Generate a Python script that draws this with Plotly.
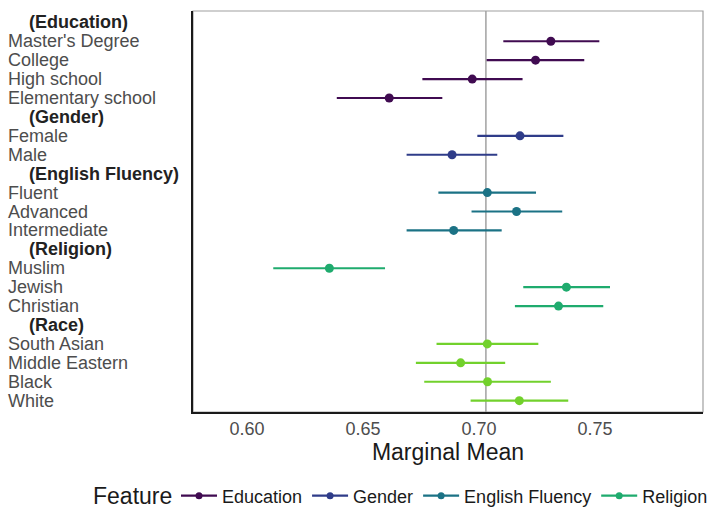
import plotly.graph_objects as go

# ---- data ----
feature_names = ["Education", "Gender", "English Fluency", "Religion", "Race"]
feature_colors = ["#400b51", "#2f3c89", "#1b7285", "#1fab6e", "#72d12c"]

level_labels = ["Master's Degree", "College", "High school", "Elementary school",
                "Female", "Male",
                "Fluent", "Advanced", "Intermediate",
                "Muslim", "Jewish", "Christian",
                "South Asian", "Middle Eastern", "Black", "White"]
level_feature = ["Education", "Education", "Education", "Education",
                 "Gender", "Gender",
                 "English Fluency", "English Fluency", "English Fluency",
                 "Religion", "Religion", "Religion",
                 "Race", "Race", "Race", "Race"]
estimate = [0.731, 0.7244, 0.6971, 0.6613,
            0.7177, 0.6884,
            0.7036, 0.7162, 0.6891,
            0.6355, 0.7377, 0.7343,
            0.7036, 0.6921, 0.7037, 0.7174]
lower = [0.7105, 0.7033, 0.6756, 0.6387,
         0.6993, 0.6688,
         0.6825, 0.6968, 0.6688,
         0.6113, 0.7191, 0.7155,
         0.6817, 0.6728, 0.6764, 0.6964]
upper = [0.7519, 0.7454, 0.7188, 0.6842,
         0.7364, 0.7079,
         0.7246, 0.7359, 0.7098,
         0.6595, 0.7565, 0.7536,
         0.7256, 0.7113, 0.7310, 0.7385]
reference_mean = 0.703
x_ticks = [0.60, 0.65, 0.70, 0.75]
x_range = [0.5767, 0.7966]
legend_title = "Feature"
legend_features = ["Education", "Gender", "English Fluency", "Religion"]

# ---- build row order (header row followed by its levels) ----
rows = []
row_is_header = []
for f in feature_names:
    rows.append("(" + f + ")")
    row_is_header.append(True)
    for lab, lf in zip(level_labels, level_feature):
        if lf == f:
            rows.append(lab)
            row_is_header.append(False)

W, H = 713, 509
ML, MR, MT, MB = 193, 10, 11, 97
plot_w = W - ML - MR
plot_h = H - MT - MB
LEGEND_Y = 496

fig = go.Figure()

for f, col in zip(feature_names, feature_colors):
    idx = [i for i, lf in enumerate(level_feature) if lf == f]
    xs, ys = [], []
    for i in idx:
        xs += [lower[i], upper[i], None]
        ys += [level_labels[i], level_labels[i], None]
    fig.add_trace(go.Scatter(x=xs, y=ys, mode="lines",
                             line=dict(color=col, width=2.2),
                             showlegend=False, hoverinfo="skip",
                             legendgroup=f))
    fig.add_trace(go.Scatter(x=[estimate[i] for i in idx],
                             y=[level_labels[i] for i in idx],
                             mode="markers",
                             marker=dict(color=col, size=9),
                             showlegend=False, legendgroup=f, name=f))
    # legend key
    fig.add_trace(go.Scatter(x=[None], y=[None], mode="lines+markers",
                             line=dict(color=col, width=2.2),
                             marker=dict(color=col, size=7),
                             name=f, legendgroup=f,
                             showlegend=(f in legend_features)))

# vertical reference line
fig.add_vline(x=reference_mean, line=dict(color="#8a8a8a", width=1.2), layer="below")

# panel border (light grey) - left/bottom axis lines dark
fig.add_shape(type="rect", xref="paper", yref="paper", x0=0, x1=1, y0=0, y1=1,
              line=dict(color="#a0a0a0", width=1.2), layer="below")

# left-aligned y labels as annotations
for r, is_h in zip(rows, row_is_header):
    px_left = 28 if is_h else 7
    fig.add_annotation(xref="paper", yref="y", x=(px_left - ML) / plot_w, y=r,
                       xanchor="left", yanchor="middle", showarrow=False,
                       borderpad=0,
                       text=("<b>" + r + "</b>") if is_h else r,
                       font=dict(size=18, color="#222222" if is_h else "#4d4d4d",
                                 family="Liberation Sans, Arial, sans-serif"))

# legend title as text beside the horizontal legend
fig.add_annotation(xref="paper", yref="paper", x=(92 - ML) / plot_w,
                   y=(H - MB - LEGEND_Y) / plot_h, xanchor="left", yanchor="middle",
                   showarrow=False, borderpad=0, text=legend_title,
                   font=dict(size=23, color="#1a1a1a",
                             family="Liberation Sans, Arial, sans-serif"))

fig.update_layout(
    width=W, height=H,
    margin=dict(l=ML, r=MR, t=MT, b=MB, autoexpand=False),
    paper_bgcolor="white", plot_bgcolor="white",
    font=dict(family="Liberation Sans, Arial, sans-serif", color="#1a1a1a"),
    xaxis=dict(range=x_range, tickvals=x_ticks,
               ticktext=["%.2f" % v for v in x_ticks],
               showgrid=False, zeroline=False, ticks="",
               showline=True, linecolor="#1a1a1a", linewidth=1.6,
               tickfont=dict(size=18, color="#4d4d4d"),
               title=dict(text="Marginal Mean", font=dict(size=23, color="#1a1a1a"),
                          standoff=4)),
    yaxis=dict(type="category", categoryorder="array", categoryarray=rows,
               range=[len(rows) - 1 + 0.6, -0.6],
               showgrid=False, zeroline=False, showticklabels=False, ticks="",
               showline=True, linecolor="#1a1a1a", linewidth=1.6),
    legend=dict(orientation="h", xref="paper", yref="paper",
                x=(176 - ML) / plot_w, xanchor="left",
                y=(H - MB - LEGEND_Y) / plot_h, yanchor="middle",
                bgcolor="rgba(0,0,0,0)",
                font=dict(size=18, color="#1a1a1a"),
                itemwidth=36, tracegroupgap=0),
    showlegend=True,
)

fig.write_html("out.html", config={"displayModeBar": False},
               post_script="document.body.style.margin='0px';")
